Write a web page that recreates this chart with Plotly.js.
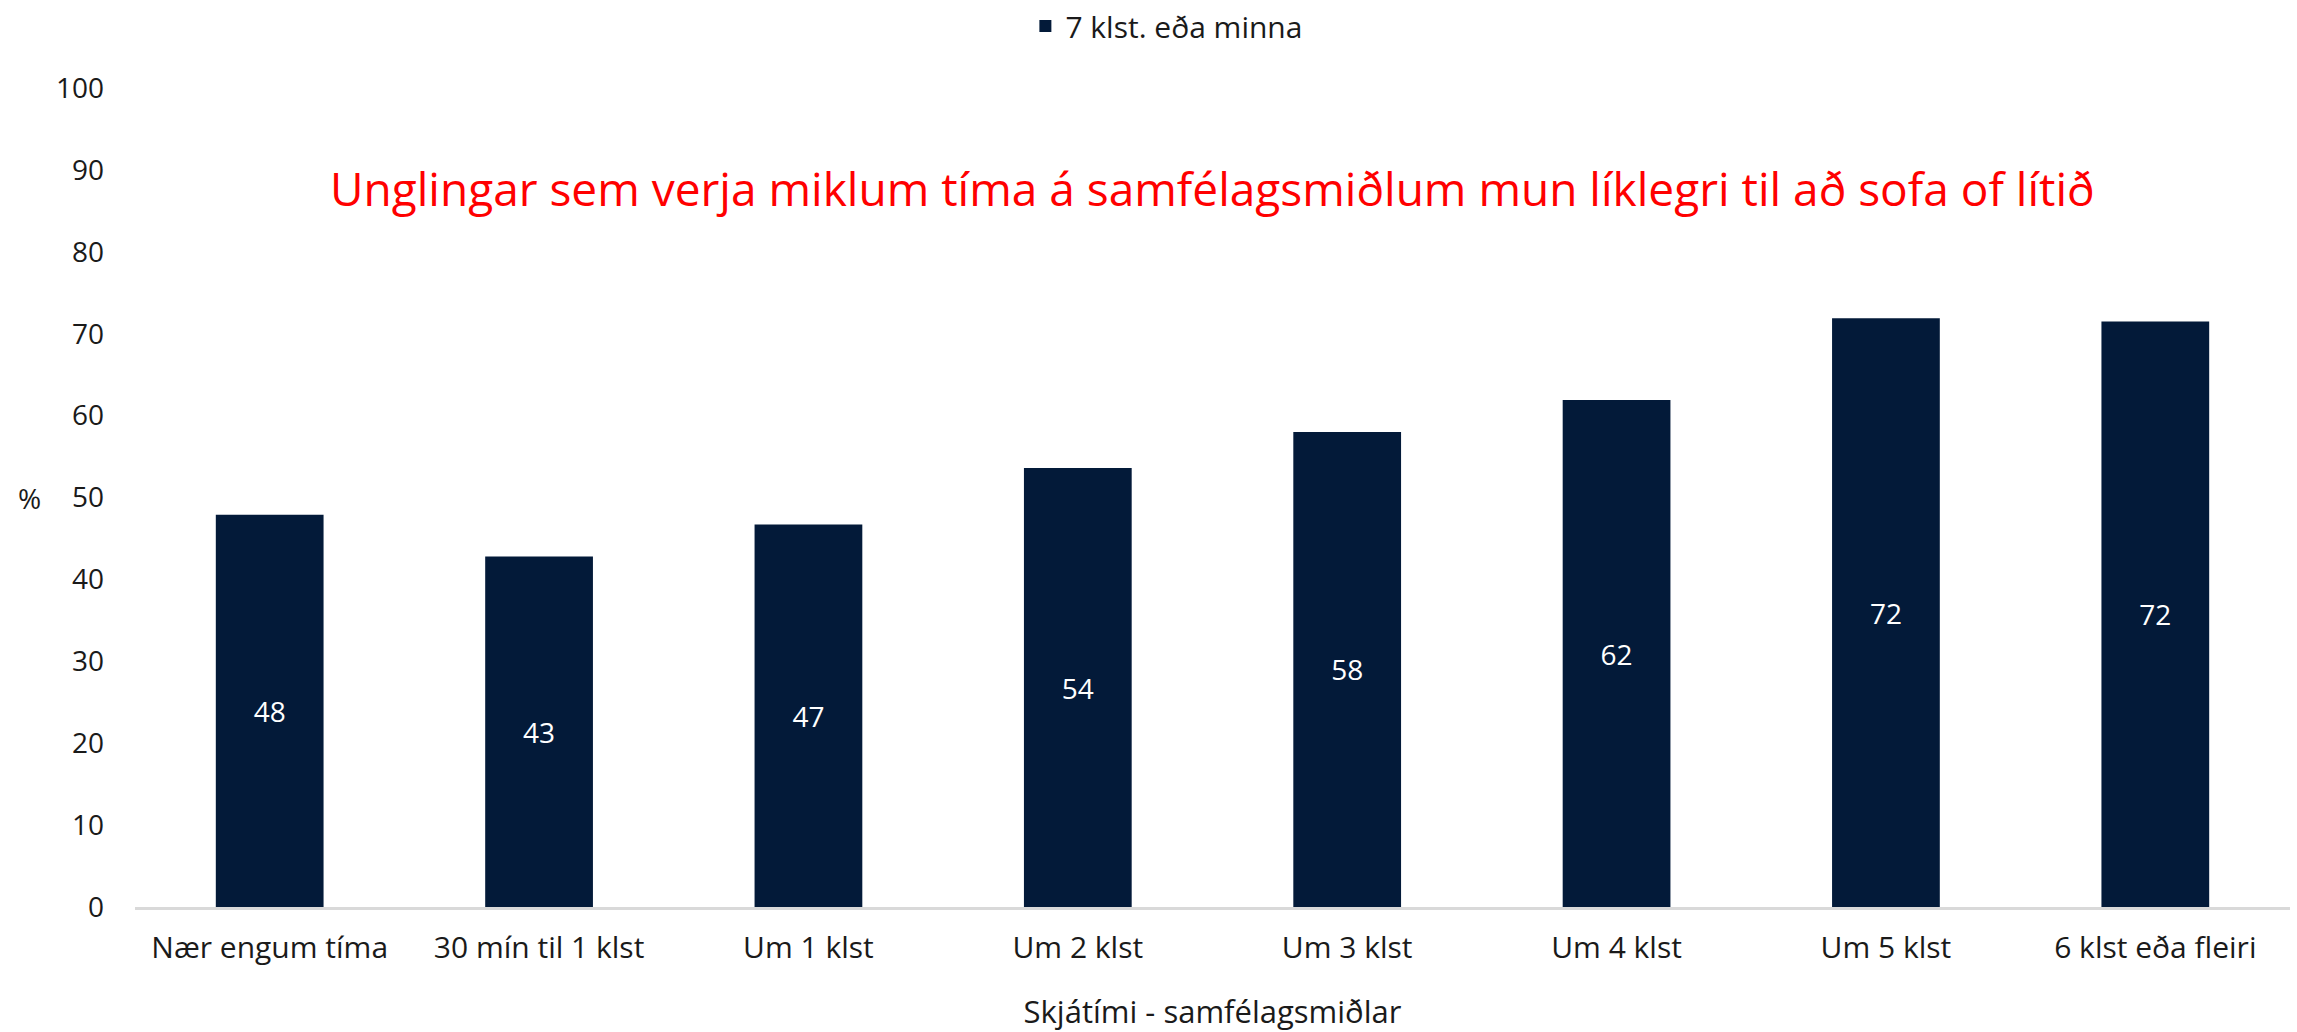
<!DOCTYPE html>
<html>
<head>
<meta charset="utf-8">
<script src="https://cdn.plot.ly/plotly-3.0.1.min.js"></script>
<style>html,body{margin:0;padding:0;background:#fff;}#chart{width:2297px;height:1032px;}</style>
</head>
<body>
<div id="chart"></div>
<script>
const categories = ["Nær engum tíma", "30 mín til 1 klst", "Um 1 klst", "Um 2 klst", "Um 3 klst", "Um 4 klst", "Um 5 klst", "6 klst eða fleiri"];
const values = [47.9, 42.8, 46.7, 53.6, 58.0, 61.9, 71.9, 71.5];
const seriesName = "7 klst. eða minna";
const yTicks = [0, 10, 20, 30, 40, 50, 60, 70, 80, 90, 100];
const chartTitle = "Unglingar sem verja miklum tíma á samfélagsmiðlum mun líklegri til að sofa of lítið";
const xTitle = "Skjátími - samfélagsmiðlar";
const yTitle = "%";

const FONT = "Open Sans, Noto Sans, sans-serif";
const NAVY = "#031a39";

const trace = {
  type: "bar",
  x: categories,
  y: values,
  name: seriesName,
  marker: {color: NAVY},
  text: values.map(v => String(Math.round(v))),
  textposition: "inside",
  insidetextanchor: "middle",
  textfont: {color: "#ffffff", size: 28, family: FONT},
  hoverinfo: "x+y",
  showlegend: true
};

const layout = {
  width: 2297,
  height: 1032,
  paper_bgcolor: "#ffffff",
  plot_bgcolor: "#ffffff",
  font: {family: FONT, size: 28, color: "#1a1a1a"},
  margin: {l: 135, r: 7, t: 88, b: 125},
  bargap: 0.6,
  showlegend: true,
  legend: {
    orientation: "h",
    x: 0.508, xref: "container", xanchor: "center",
    y: 1, yref: "container", yanchor: "top",
    font: {size: 30, family: FONT, color: "#1a1a1a"},
    itemwidth: 30
  },
  xaxis: {
    type: "category",
    showline: true,
    linecolor: "#d9d9d9",
    linewidth: 3,
    showgrid: false,
    zeroline: false,
    ticks: "",
    ticklabelstandoff: 12,
    tickfont: {size: 30, family: FONT, color: "#1a1a1a"},
    title: {text: xTitle, font: {size: 31, family: FONT, color: "#1a1a1a"}, standoff: 36}
  },
  yaxis: {
    range: [0, 100],
    tickvals: yTicks,
    showline: false,
    showgrid: false,
    zeroline: false,
    ticks: "",
    ticklabelstandoff: 30,
    tickfont: {size: 28, family: FONT, color: "#1a1a1a"}
  },
  annotations: [
    {
      text: chartTitle,
      xref: "paper", yref: "paper",
      x: 0.5, y: 0.878, xanchor: "center", yanchor: "middle",
      showarrow: false,
      font: {size: 46, family: FONT, color: "#ff0000"}
    },
    {
      text: yTitle,
      xref: "paper", yref: "paper",
      x: -106 / 2155, y: 0.5, xanchor: "center", yanchor: "middle",
      showarrow: false,
      font: {size: 28, family: FONT, color: "#1a1a1a"}
    }
  ]
};

Plotly.newPlot("chart", [trace], layout, {displayModeBar: false, staticPlot: true});
</script>
</body>
</html>
